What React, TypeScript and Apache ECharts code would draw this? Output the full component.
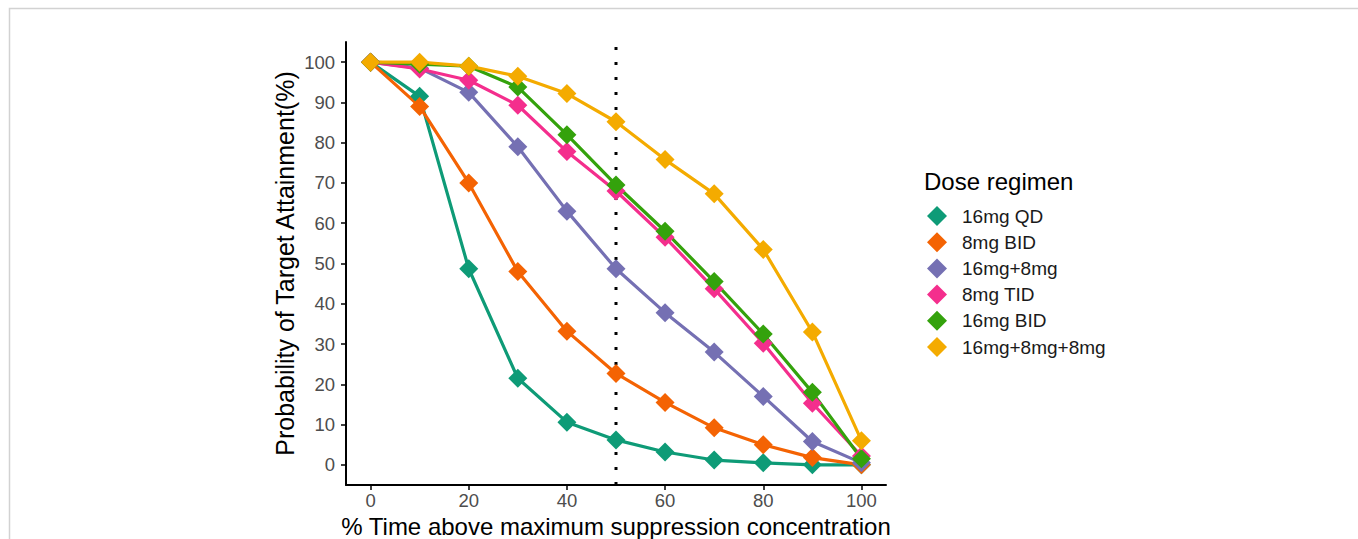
import React, { useEffect, useRef } from "react";
import * as echarts from "echarts";

const xValues = [0, 10, 20, 30, 40, 50, 60, 70, 80, 90, 100];
const seriesNames = ["16mg QD", "8mg BID", "16mg+8mg", "8mg TID", "16mg BID", "16mg+8mg+8mg"];
const colors = ["#0E9B77", "#F46303", "#7570B3", "#F42E8D", "#34A20C", "#F4AB00"];
const qd16 = [100, 91.5, 48.7, 21.5, 10.6, 6.2, 3.2, 1.2, 0.5, 0, 0];
const bid8 = [100, 89, 70, 48, 33.2, 22.7, 15.5, 9.2, 5, 1.8, 0];
const mg16p8 = [100, 98.5, 92.5, 79, 63, 48.7, 37.8, 28, 17, 5.8, 0.5];
const tid8 = [100, 98.3, 95.5, 89.3, 77.8, 68, 56.5, 43.7, 30.2, 15.3, 2.2];
const bid16 = [100, 99.5, 99, 93.8, 82, 69.5, 58, 45.5, 32.5, 18, 1.5];
const mg16p8p8 = [100, 100, 99, 96.5, 92.2, 85.2, 75.8, 67.3, 53.5, 33, 6];
const allSeries = [qd16, bid8, mg16p8, tid8, bid16, mg16p8p8];
const xTicks = [0, 20, 40, 60, 80, 100];
const yTicks = [0, 10, 20, 30, 40, 50, 60, 70, 80, 90, 100];
const cutoff = 50;

export default function App() {
  const ref = useRef<HTMLDivElement>(null);
  useEffect(() => {
    const chart = echarts.init(ref.current!, undefined, { renderer: "svg" });
    const font = "Liberation Sans, Arial, sans-serif";
    const lineSeries = allSeries.map((vals, i) => ({
      name: seriesNames[i],
      type: "line",
      data: xValues.map((x, j) => [x, vals[j]]),
      showSymbol: false,
      symbol: "none",
      lineStyle: { color: colors[i], width: 3.2 },
      itemStyle: { color: colors[i] },
      z: 3,
      silent: true,
    }));
    const pointSeries = allSeries.map((vals, i) => ({
      name: seriesNames[i],
      type: "scatter",
      data: xValues.map((x, j) => [x, vals[j]]),
      symbol: "diamond",
      symbolSize: [19, 19],
      itemStyle: { color: colors[i], opacity: 1 },
      z: 5,
    }));
    const option: any = {
      animation: false,
      backgroundColor: "#ffffff",
      textStyle: { fontFamily: font },
      grid: {
        left: 346,
        top: 42,
        width: 540,
        height: 443,
        containLabel: false,
        outerBoundsMode: "none",
      },
      xAxis: {
        type: "value",
        min: -5,
        max: 105,
        name: "% Time above maximum suppression concentration",
        nameLocation: "middle",
        nameGap: 22,
        nameTextStyle: { fontSize: 24, color: "#000", fontFamily: font },
        axisLine: { show: true, onZero: false, lineStyle: { color: "#000", width: 2 } },
        axisTick: { show: true, length: 5, lineStyle: { color: "#000", width: 1.5 }, customValues: xTicks },
        axisLabel: { color: "#4d4d4d", fontSize: 18.5, margin: 6, customValues: xTicks, fontFamily: font },
        splitLine: { show: false },
      },
      yAxis: {
        type: "value",
        min: -5,
        max: 105,
        name: "Probability of Target Attainment(%)",
        nameLocation: "middle",
        nameGap: 49,
        nameTextStyle: { fontSize: 25, color: "#000", fontFamily: font },
        axisLine: { show: true, onZero: false, lineStyle: { color: "#000", width: 2 } },
        axisTick: { show: true, length: 5, lineStyle: { color: "#000", width: 1.5 }, customValues: yTicks },
        axisLabel: { color: "#4d4d4d", fontSize: 18.5, margin: 11, customValues: yTicks, fontFamily: font },
        splitLine: { show: false },
      },
      title: {
        text: "Dose regimen",
        left: 919,
        top: 164,
        textStyle: { fontSize: 24, fontWeight: "normal", color: "#000", fontFamily: font },
      },
      legend: {
        orient: "vertical",
        left: 922,
        top: 201,
        icon: "diamond",
        itemWidth: 20,
        itemHeight: 20,
        itemGap: 6.2,
        data: seriesNames,
        textStyle: { fontSize: 19, color: "#1a1a1a", padding: [0, 0, 0, 10], fontFamily: font },
        selectedMode: false,
      },
      graphic: [
        {
          type: "rect",
          shape: { x: 9.5, y: 8.5, width: 1400, height: 600 },
          style: { fill: "none", stroke: "#d2d2d2", lineWidth: 1.5 },
          silent: true,
          z: -10,
        },
      ],
      series: [
        ...lineSeries,
        {
          name: "cutoff",
          type: "line",
          data: [
            [cutoff, -5],
            [cutoff, 105],
          ],
          showSymbol: false,
          symbol: "none",
          lineStyle: { color: "#000", width: 3, type: [3, 12], cap: "butt" },
          z: 4,
          silent: true,
        },
        ...pointSeries,
      ],
    };
    chart.setOption(option);
    return () => chart.dispose();
  }, []);
  return (
    <div
      ref={ref}
      style={{ position: "fixed", left: 0, top: 0, width: 1358, height: 539, background: "#fff" }}
    />
  );
}
